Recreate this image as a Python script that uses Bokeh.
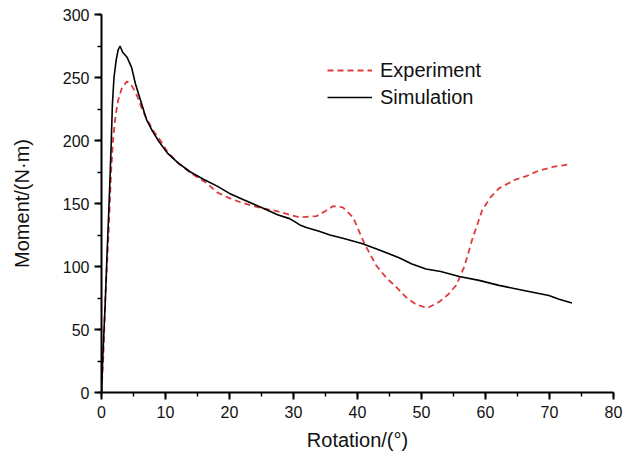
from bokeh.plotting import figure
from bokeh.models import Range1d, SingleIntervalTicker, Legend, LegendItem
from bokeh.embed import file_html
from bokeh.resources import INLINE

# Simulation (black solid)
sim_x = [0, 0.2, 0.6, 0.85, 1.1, 1.3, 1.5, 1.7, 1.95, 2.3, 2.6, 2.9, 3.3, 4.0, 4.7, 5.3, 6.1, 7.0,
         8.0, 9.0, 10.3, 12.0, 13.9, 16.0, 18.0, 20.0, 22.2, 24.0, 25.8, 27.5, 29.4, 31.0, 32.0,
         34.0, 35.7, 38.0, 40.8, 43.4, 46.5, 48.5, 50.7, 53.0, 55.9, 59.0, 62.1, 66.0, 69.9,
         71.5, 73.5]
sim_y = [0, 28, 73, 108, 139, 166, 195, 228, 250, 264, 272, 275, 270, 266, 258, 245, 232, 217,
         207, 199, 190, 182, 175, 169, 164, 158, 153, 149, 145, 141, 138, 133, 131,
         128, 125, 122, 118, 113, 107, 102, 98, 96, 92, 89, 85, 81, 77,
         74, 71]

# Experiment (red dashed)
exp_x = [0, 0.3, 0.6, 1.1, 1.5, 1.8, 2.2, 2.6, 3.2, 4.0, 4.8, 5.6, 6.4, 7.3, 8.2, 9.2, 10.3,
         12.0, 14.0, 16.5, 18.0, 20.1, 21.7, 23.7, 25.3, 27.4, 29.4, 31.0, 33.6, 35.0, 36.2,
         37.7, 39.3, 41.1, 42.9, 44.5, 46.0, 47.5, 49.1, 50.9, 52.8, 54.2, 55.4, 56.7, 57.9,
         59.5, 60.8, 62.1, 64.7, 66.5, 68.3, 70.5, 73.0]
exp_y = [0, 30, 76, 126, 175, 200, 220, 232, 242, 247, 243, 235, 224, 215, 207, 200, 191,
         182, 174, 166, 159, 154, 151, 148, 146, 144, 141, 139, 140, 144, 148,
         147, 139, 118, 101, 91, 84, 76, 70, 67, 72, 78, 85, 100, 121,
         145, 155, 162, 169, 172, 176, 179, 181]

x_ticks_interval = 10
y_ticks_interval = 50

p = figure(width=634, height=459, output_backend="svg", toolbar_location=None,
           x_range=Range1d(0, 80), y_range=Range1d(0, 300),
           min_border_left=101, min_border_right=21, min_border_top=14, min_border_bottom=67)
p.outline_line_color = None
p.xgrid.visible = False
p.ygrid.visible = False
p.background_fill_color = "white"
p.border_fill_color = "white"

exp_r = p.line(exp_x, exp_y, line_color="#e03a3e", line_width=1.8, line_dash="6 4")
sim_r = p.line(sim_x, sim_y, line_color="black", line_width=1.6)

for ax, interval in ((p.xaxis[0], x_ticks_interval), (p.yaxis[0], y_ticks_interval)):
    ax.ticker = SingleIntervalTicker(interval=interval, num_minor_ticks=2)
    ax.axis_line_width = 2
    ax.axis_line_color = "black"
    ax.major_tick_line_width = 2
    ax.minor_tick_line_width = 1.5
    ax.major_tick_out = 7
    ax.major_tick_in = 0
    ax.minor_tick_out = 4
    ax.minor_tick_in = 0
    ax.major_label_text_font = "Liberation Sans"
    ax.major_label_text_font_size = "16px"
    ax.major_label_text_color = "#111111"
    ax.axis_label_text_font = "Liberation Sans"
    ax.axis_label_text_font_size = "20px"
    ax.axis_label_text_font_style = "normal"
    ax.axis_label_text_color = "#111111"

p.xaxis.axis_label = "Rotation/(°)"
p.yaxis.axis_label = "Moment/(N·m)"
p.xaxis.major_label_standoff = 6
p.yaxis.major_label_standoff = 5
p.xaxis.axis_label_standoff = 8
p.yaxis.axis_label_standoff = 27

legend = Legend(items=[LegendItem(label="Experiment", renderers=[exp_r]),
                       LegendItem(label="Simulation", renderers=[sim_r])],
                location=(226, 283))
legend.border_line_color = None
legend.background_fill_alpha = 0
legend.padding = 0
legend.margin = 0
legend.spacing = 3
legend.glyph_width = 45
legend.glyph_height = 24
legend.label_height = 24
legend.label_standoff = 8
legend.label_text_font = "Liberation Sans"
legend.label_text_font_size = "20px"
legend.label_text_color = "#111111"
p.add_layout(legend, "center")

open("out.html", "w").write(file_html(p, INLINE))
